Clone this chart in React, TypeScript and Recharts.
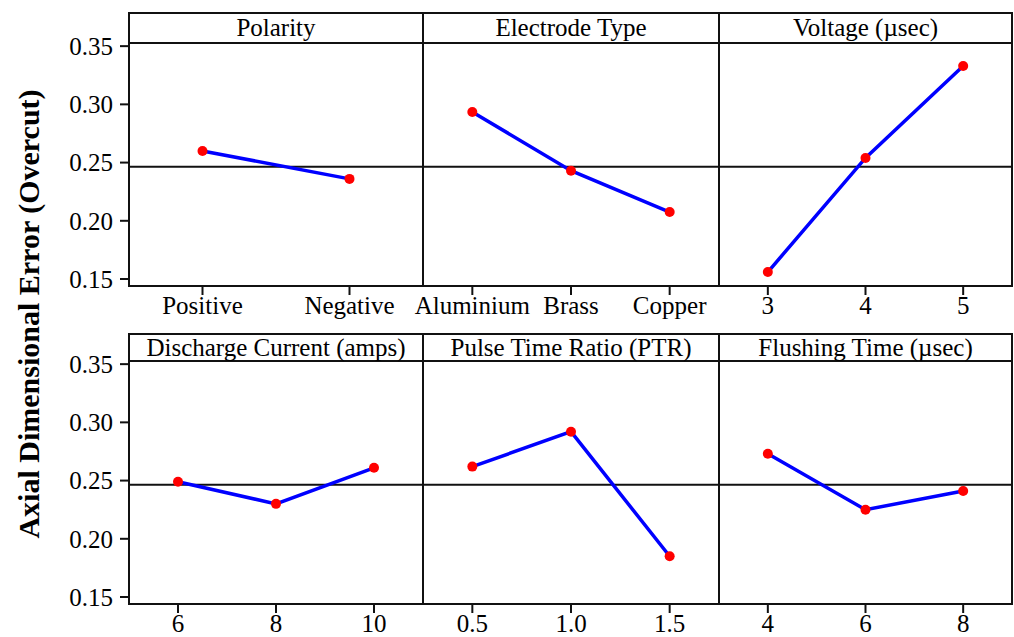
import React from 'react';
import { LineChart, Line, XAxis, YAxis, ReferenceLine } from 'recharts';

// factor levels and mean overcut for each level
const polarityLevels = ['Positive', 'Negative'];
const polarityMeans = [0.26, 0.236];

const electrodeLevels = ['Aluminium', 'Brass', 'Copper'];
const electrodeMeans = [0.2935, 0.243, 0.2075];

const voltageLevels = ['3', '4', '5'];
const voltageMeans = [0.156, 0.254, 0.333];

const currentLevels = ['6', '8', '10'];
const currentMeans = [0.249, 0.23, 0.261];

const ptrLevels = ['0.5', '1.0', '1.5'];
const ptrMeans = [0.262, 0.292, 0.185];

const flushingLevels = ['4', '6', '8'];
const flushingMeans = [0.273, 0.225, 0.241];

const factorTitles = [
  'Polarity',
  'Electrode Type',
  'Voltage (\u00b5sec)',
  'Discharge Current (amps)',
  'Pulse Time Ratio (PTR)',
  'Flushing Time (\u00b5sec)',
];

const grandMean = 0.2465;
const yTicks = [0.15, 0.2, 0.25, 0.3, 0.35];
const yDomain = [0.144, 0.3527];

const FONT = '"Liberation Serif", "Times New Roman", serif';
const INK = '#111';

const factors = [
  { levels: polarityLevels, means: polarityMeans },
  { levels: electrodeLevels, means: electrodeMeans },
  { levels: voltageLevels, means: voltageMeans },
  { levels: currentLevels, means: currentMeans },
  { levels: ptrLevels, means: ptrMeans },
  { levels: flushingLevels, means: flushingMeans },
];

// panel grid
const colEdges = [129, 423, 719, 1012];
const rows = [
  { frameTop: 13, headerBottom: 43, plotBottom: 286 },
  { frameTop: 334, headerBottom: 361, plotBottom: 604 },
];
const X_AXIS_H = 45;
const Y_AXIS_W = 129;
const SIDE = 40; // spare room so long tick labels are not clipped

const tickStyle = { fill: '#000', fontSize: 25, fontFamily: FONT };

type PanelProps = { idx: number };

const Panel = ({ idx }: PanelProps) => {
  const col = idx % 3;
  const row = rows[Math.floor(idx / 3)];
  const { levels, means } = factors[idx];
  const data = levels.map((level, i) => ({ level, mean: means[i] }));

  const plotW = colEdges[col + 1] - colEdges[col];
  const showY = col === 0;
  const padL = showY ? 0 : SIDE;
  const padR = col === 2 ? 0 : SIDE;
  const left = showY ? 0 : colEdges[col] - SIDE;
  const width = plotW + (showY ? Y_AXIS_W : 0) + padL + padR;
  const headerH = row.headerBottom - row.frameTop;
  const height = row.plotBottom - row.frameTop + X_AXIS_H;
  const pad = plotW / (2 * levels.length);

  return (
    <>
      <div style={{ position: 'absolute', left, top: row.frameTop }}>
        <LineChart
          width={width}
          height={height}
          data={data}
          margin={{ top: headerH, right: padR, bottom: 0, left: padL }}
        >
          <XAxis
            dataKey="level"
            type="category"
            scale="point"
            padding={{ left: pad, right: pad }}
            height={X_AXIS_H}
            axisLine={false}
            tickSize={9}
            tickMargin={1}
            tickLine={{ stroke: INK, strokeWidth: 2 }}
            tick={tickStyle}
            interval={0}
          />
          <YAxis
            hide={!showY}
            width={Y_AXIS_W}
            type="number"
            domain={yDomain}
            ticks={yTicks}
            allowDataOverflow
            axisLine={false}
            tickSize={9}
            tickMargin={7}
            tickLine={{ stroke: INK, strokeWidth: 2 }}
            tick={tickStyle}
            tickFormatter={(v: number) => v.toFixed(2)}
          />
          <ReferenceLine y={grandMean} stroke={INK} strokeWidth={2} />
          <Line
            type="linear"
            dataKey="mean"
            stroke="#0000ff"
            strokeWidth={3.5}
            dot={{ r: 5, fill: '#ff0000', stroke: '#ff0000', strokeWidth: 0 }}
            activeDot={false}
            isAnimationActive={false}
          />
        </LineChart>
      </div>
      {/* panel frame and title strip */}
      <div
        style={{
          position: 'absolute',
          left: colEdges[col] - 1,
          top: row.frameTop - 1,
          width: plotW + 2,
          height: row.plotBottom - row.frameTop + 2,
          border: `2px solid ${INK}`,
          boxSizing: 'border-box',
          pointerEvents: 'none',
        }}
      />
      <div
        style={{
          position: 'absolute',
          left: colEdges[col],
          top: row.headerBottom - 1,
          width: plotW,
          height: 2,
          background: INK,
        }}
      />
      <div
        style={{
          position: 'absolute',
          left: colEdges[col],
          top: row.frameTop,
          width: plotW,
          height: headerH,
          lineHeight: `${headerH}px`,
          textAlign: 'center',
          fontFamily: FONT,
          fontSize: 25,
          color: '#000',
          whiteSpace: 'nowrap',
        }}
      >
        {factorTitles[idx]}
      </div>
    </>
  );
};

export default function App() {
  return (
    <div
      style={{
        position: 'absolute',
        left: 0,
        top: 0,
        width: 1014,
        height: 637,
        background: '#fff',
        overflow: 'hidden',
      }}
    >
      {factors.map((_, i) => (
        <Panel key={i} idx={i} />
      ))}
      <svg
        width={60}
        height={637}
        style={{ position: 'absolute', left: 0, top: 0 }}
      >
        <text
          x={28}
          y={314}
          transform="rotate(-90 28 314)"
          textAnchor="middle"
          dominantBaseline="central"
          fontFamily={FONT}
          fontWeight="bold"
          fontSize={30}
          fill="#000"
        >
          Axial Dimensional Error (Overcut)
        </text>
      </svg>
    </div>
  );
}
